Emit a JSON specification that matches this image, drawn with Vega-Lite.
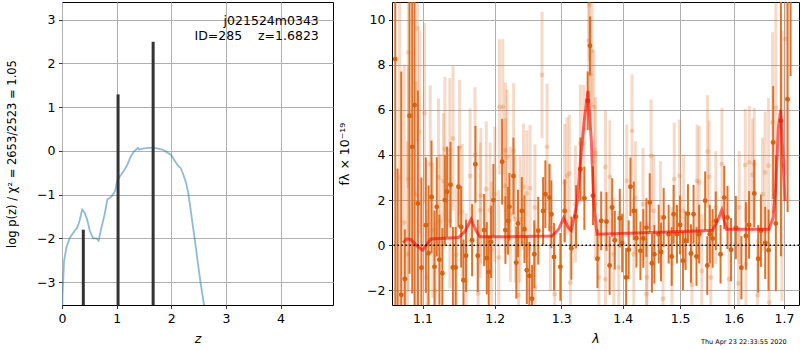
{
  "$schema": "https://vega.github.io/schema/vega-lite/v6.json",
  "background": "white",
  "padding": {"left": 6, "top": 1, "right": 0, "bottom": 0},
  "spacing": 59,
  "bounds": "flush",
  "config": {
    "font": "DejaVu Sans",
    "view": {"stroke": "black", "strokeWidth": 1},
    "axis": {
      "grid": true, "gridColor": "#b0b0b0", "gridWidth": 1,
      "domain": false, "tickColor": "black", "tickSize": 3.5, "tickWidth": 0.8,
      "labelFontSize": 12.5, "labelColor": "black", "labelFont": "DejaVu Sans", "labelPadding": 3.5,
      "labelFlush": false, "labelOverlap": false,
      "titleFontSize": 12.5, "titleFontWeight": "normal", "titleColor": "black", "titleFont": "DejaVu Sans"
    }
  },
  "datasets": {
    "pz": [
      {"z":0.0,"lp":-3.9},{"z":0.01,"lp":-3.3},{"z":0.037,"lp":-2.52},{"z":0.08,"lp":-2.21},{"z":0.14,"lp":-1.99},{"z":0.23,"lp":-1.83},{"z":0.275,"lp":-1.76},{"z":0.32,"lp":-1.6},{"z":0.37,"lp":-1.34},{"z":0.415,"lp":-1.41},{"z":0.46,"lp":-1.57},{"z":0.51,"lp":-1.83},{"z":0.57,"lp":-2.0},{"z":0.63,"lp":-2.0},{"z":0.67,"lp":-2.05},{"z":0.72,"lp":-1.76},{"z":0.78,"lp":-1.45},{"z":0.83,"lp":-1.11},{"z":0.89,"lp":-1.06},{"z":0.93,"lp":-1.0},{"z":0.97,"lp":-0.92},{"z":1.01,"lp":-0.69},{"z":1.06,"lp":-0.58},{"z":1.13,"lp":-0.46},{"z":1.2,"lp":-0.31},{"z":1.26,"lp":-0.12},{"z":1.32,"lp":-0.01},{"z":1.39,"lp":0.07},{"z":1.41,"lp":0.03},{"z":1.48,"lp":0.05},{"z":1.58,"lp":0.07},{"z":1.67,"lp":0.07},{"z":1.76,"lp":0.05},{"z":1.86,"lp":0.02},{"z":1.94,"lp":-0.05},{"z":2.0,"lp":-0.1},{"z":2.06,"lp":-0.22},{"z":2.12,"lp":-0.33},{"z":2.17,"lp":-0.39},{"z":2.22,"lp":-0.54},{"z":2.27,"lp":-0.73},{"z":2.31,"lp":-0.96},{"z":2.35,"lp":-1.3},{"z":2.4,"lp":-1.76},{"z":2.45,"lp":-2.21},{"z":2.49,"lp":-2.59},{"z":2.54,"lp":-3.05},{"z":2.6,"lp":-3.52},{"z":2.65,"lp":-4.0}
    ],
    "bars": [
      {"z":0.39,"lp":-1.8,"base":-3.6},{"z":1.026,"lp":1.29,"base":-3.6},{"z":1.668,"lp":2.49,"base":-3.6}
    ],
    "lab": [
      {"z":4.7,"lp":2.96,"t":"j021524m0343"},{"z":4.7,"lp":2.62,"t":"ID=285\u00a0\u00a0\u00a0\u00a0z=1.6823"}
    ],
    "model": [
      {"w":1.0744,"f":0.12},{"w":1.0796,"f":0.28},{"w":1.0848,"f":0.25},{"w":1.0926,"f":-0.03},{"w":1.1,"f":-0.22},{"w":1.1058,"f":0.04},{"w":1.1112,"f":0.28},{"w":1.1487,"f":0.34},{"w":1.158,"f":0.63},{"w":1.1663,"f":1.15},{"w":1.1734,"f":0.63},{"w":1.179,"f":0.37},{"w":1.2005,"f":0.37},{"w":1.2857,"f":0.41},{"w":1.296,"f":0.71},{"w":1.3038,"f":1.2},{"w":1.3106,"f":0.8},{"w":1.3158,"f":0.65},{"w":1.3249,"f":1.82},{"w":1.3318,"f":4.18},{"w":1.3372,"f":5.66},{"w":1.3425,"f":6.84},{"w":1.3479,"f":4.63},{"w":1.3518,"f":1.96},{"w":1.3572,"f":0.49},{"w":1.5343,"f":0.63},{"w":1.5598,"f":0.66},{"w":1.5692,"f":1.08},{"w":1.5773,"f":1.55},{"w":1.5862,"f":0.71},{"w":1.6696,"f":0.71},{"w":1.6777,"f":1.22},{"w":1.6831,"f":2.55},{"w":1.6886,"f":5.22},{"w":1.6932,"f":6.0},{"w":1.698,"f":3.89},{"w":1.702,"f":1.96}
    ],
    "dark": [
      {"w":1.0645,"f":8.25,"lo":-3.75,"hi":20.25},{"w":1.0674,"f":-3.0,"lo":-9.4,"hi":3.4},{"w":1.0722,"f":-2.2,"lo":-12.1,"hi":7.7},{"w":1.0768,"f":-1.5,"lo":-3.7,"hi":0.7},{"w":1.0829,"f":5.74,"lo":-1.26,"hi":12.74},{"w":1.0864,"f":4.36,"lo":-2.14,"hi":10.86},{"w":1.0895,"f":6.21,"lo":-2.79,"hi":15.21},{"w":1.0939,"f":1.85,"lo":-3.15,"hi":6.85},{"w":1.0985,"f":-1.0,"lo":-5.0,"hi":3.0},{"w":1.1044,"f":0.89,"lo":-2.11,"hi":3.89},
      {"w":1.108,"f":-0.35,"lo":-3.35,"hi":2.65},{"w":1.112,"f":2.14,"lo":-0.36,"hi":4.64},{"w":1.116,"f":-0.96,"lo":-3.46,"hi":1.54},{"w":1.119,"f":1.7,"lo":-0.5,"hi":3.9},{"w":1.1226,"f":-0.64,"lo":-2.64,"hi":1.36},{"w":1.1266,"f":-1.24,"lo":-3.24,"hi":0.76},{"w":1.13,"f":2.0,"lo":0.0,"hi":4.0},{"w":1.133,"f":2.37,"lo":0.37,"hi":4.37},{"w":1.1377,"f":2.68,"lo":0.78,"hi":4.58},{"w":1.141,"f":-0.99,"lo":-2.79,"hi":0.81},
      {"w":1.1448,"f":-0.99,"lo":-2.79,"hi":0.81},{"w":1.1487,"f":2.59,"lo":0.79,"hi":4.39},{"w":1.1524,"f":0.81,"lo":-0.99,"hi":2.61},{"w":1.1556,"f":-1.55,"lo":-3.35,"hi":0.25},{"w":1.1592,"f":-0.47,"lo":-2.07,"hi":1.13},{"w":1.1677,"f":0.22,"lo":-1.38,"hi":1.82},{"w":1.1724,"f":3.59,"lo":1.89,"hi":5.29},{"w":1.1757,"f":-0.47,"lo":-2.07,"hi":1.13},{"w":1.1847,"f":0.67,"lo":-0.93,"hi":2.27},{"w":1.1885,"f":-0.58,"lo":-2.18,"hi":1.02},
      {"w":1.1913,"f":-1.18,"lo":-2.78,"hi":0.42},{"w":1.1947,"f":0.15,"lo":-1.45,"hi":1.75},{"w":1.198,"f":2.0,"lo":0.4,"hi":3.6},{"w":1.2107,"f":3.7,"lo":1.8,"hi":5.6},{"w":1.2155,"f":0.67,"lo":-0.83,"hi":2.17},{"w":1.2194,"f":1.08,"lo":-0.42,"hi":2.58},{"w":1.2213,"f":1.7,"lo":0.2,"hi":3.2},{"w":1.2273,"f":3.07,"lo":1.37,"hi":4.77},{"w":1.2315,"f":-0.77,"lo":-2.37,"hi":0.83},{"w":1.234,"f":0.96,"lo":-0.54,"hi":2.46},
      {"w":1.2397,"f":1.52,"lo":0.02,"hi":3.02},{"w":1.2437,"f":0.71,"lo":-0.79,"hi":2.21},{"w":1.2472,"f":-1.11,"lo":-2.61,"hi":0.39},{"w":1.2511,"f":-1.36,"lo":-2.86,"hi":0.14},{"w":1.2551,"f":-2.37,"lo":-3.87,"hi":-0.87},{"w":1.2585,"f":-0.4,"lo":-1.9,"hi":1.1},{"w":1.2645,"f":0.64,"lo":-0.86,"hi":2.14},{"w":1.2719,"f":1.52,"lo":0.02,"hi":3.02},{"w":1.2754,"f":2.26,"lo":0.76,"hi":3.76},{"w":1.2816,"f":2.11,"lo":0.61,"hi":3.61},
      {"w":1.2847,"f":1.37,"lo":-0.13,"hi":2.87},{"w":1.2888,"f":-0.52,"lo":-2.02,"hi":0.98},{"w":1.2986,"f":-0.96,"lo":-2.46,"hi":0.54},{"w":1.3054,"f":1.52,"lo":0.12,"hi":2.92},{"w":1.3159,"f":-0.13,"lo":-1.53,"hi":1.27},{"w":1.3234,"f":1.26,"lo":-0.14,"hi":2.66},{"w":1.3303,"f":3.37,"lo":1.97,"hi":4.77},{"w":1.3367,"f":2.08,"lo":0.68,"hi":3.48},{"w":1.342,"f":6.4,"lo":5.1,"hi":7.7},{"w":1.3458,"f":8.84,"lo":7.54,"hi":10.14},
      {"w":1.3507,"f":2.19,"lo":0.89,"hi":3.49},{"w":1.358,"f":-0.6,"lo":-1.9,"hi":0.7},{"w":1.3641,"f":1.08,"lo":-0.22,"hi":2.38},{"w":1.3728,"f":1.05,"lo":-0.25,"hi":2.35},{"w":1.378,"f":-0.9,"lo":-2.2,"hi":0.4},{"w":1.3822,"f":1.67,"lo":0.37,"hi":2.97},{"w":1.3866,"f":0.22,"lo":-1.08,"hi":1.52},{"w":1.395,"f":1.2,"lo":-0.1,"hi":2.5},{"w":1.399,"f":0.1,"lo":-1.2,"hi":1.4},{"w":1.4057,"f":-1.43,"lo":-2.73,"hi":-0.13},
      {"w":1.41,"f":-0.2,"lo":-1.5,"hi":1.1},{"w":1.413,"f":2.59,"lo":1.29,"hi":3.89},{"w":1.4187,"f":1.52,"lo":0.22,"hi":2.82},{"w":1.4232,"f":0.31,"lo":-0.99,"hi":1.61},{"w":1.4301,"f":-0.25,"lo":-1.55,"hi":1.05},{"w":1.435,"f":0.3,"lo":-1.0,"hi":1.6},{"w":1.4404,"f":0.78,"lo":-0.52,"hi":2.08},{"w":1.4462,"f":1.89,"lo":0.59,"hi":3.19},{"w":1.45,"f":-0.8,"lo":-2.1,"hi":0.5},{"w":1.4543,"f":-0.4,"lo":-1.7,"hi":0.9},
      {"w":1.4619,"f":0.49,"lo":-0.81,"hi":1.79},{"w":1.466,"f":-0.3,"lo":-1.6,"hi":1.0},{"w":1.4707,"f":1.23,"lo":-0.07,"hi":2.53},{"w":1.4795,"f":0.49,"lo":-0.81,"hi":1.79},{"w":1.485,"f":-0.5,"lo":-1.8,"hi":0.8},{"w":1.4884,"f":1.37,"lo":0.07,"hi":2.67},{"w":1.4944,"f":0.49,"lo":-0.81,"hi":1.79},{"w":1.5,"f":0.9,"lo":-0.4,"hi":2.2},{"w":1.5052,"f":-0.69,"lo":-1.99,"hi":0.61},{"w":1.51,"f":0.2,"lo":-1.1,"hi":1.5},
      {"w":1.5143,"f":1.4,"lo":0.1,"hi":2.7},{"w":1.5198,"f":-0.37,"lo":-1.67,"hi":0.93},{"w":1.5246,"f":1.37,"lo":0.07,"hi":2.67},{"w":1.53,"f":-0.5,"lo":-1.8,"hi":0.8},{"w":1.5348,"f":0.49,"lo":-0.81,"hi":1.79},{"w":1.546,"f":1.97,"lo":0.67,"hi":3.27},{"w":1.55,"f":-0.9,"lo":-2.2,"hi":0.4},{"w":1.5547,"f":0.49,"lo":-0.81,"hi":1.79},{"w":1.56,"f":0.3,"lo":-1.0,"hi":1.6},{"w":1.566,"f":1.08,"lo":-0.22,"hi":2.38},
      {"w":1.575,"f":-0.4,"lo":-1.7,"hi":0.9},{"w":1.5819,"f":2.11,"lo":0.71,"hi":3.51},{"w":1.5882,"f":1.23,"lo":-0.17,"hi":2.63},{"w":1.595,"f":-0.2,"lo":-1.6,"hi":1.2},{"w":1.6043,"f":0.78,"lo":-0.62,"hi":2.18},{"w":1.615,"f":-1.0,"lo":-2.4,"hi":0.4},{"w":1.6238,"f":0.41,"lo":-1.09,"hi":1.91},{"w":1.63,"f":0.9,"lo":-0.6,"hi":2.4},{"w":1.6402,"f":2.29,"lo":0.79,"hi":3.79},{"w":1.648,"f":-0.6,"lo":-2.1,"hi":0.9},
      {"w":1.6534,"f":0.64,"lo":-0.96,"hi":2.24},{"w":1.662,"f":0.1,"lo":-1.5,"hi":1.7},{"w":1.6687,"f":-0.22,"lo":-2.02,"hi":1.58},{"w":1.678,"f":4.55,"lo":2.05,"hi":7.05},{"w":1.6834,"f":0.96,"lo":-2.04,"hi":3.96},{"w":1.6937,"f":5.51,"lo":-0.49,"hi":11.51},{"w":1.7074,"f":6.47,"lo":1.47,"hi":11.47},{"w":1.7135,"f":12.0,"lo":7.5,"hi":16.5}
    ],
    "light": [
      {"w":1.07,"f":3.0,"lo":-5.0,"hi":11.0},{"w":1.076,"f":1.0,"lo":-6.0,"hi":8.0},{"w":1.0815,"f":8.54,"lo":2.54,"hi":14.54},{"w":1.0934,"f":9.62,"lo":4.62,"hi":14.62},{"w":1.1026,"f":5.85,"lo":1.85,"hi":9.85},{"w":1.096,"f":5.03,"lo":0.53,"hi":9.53},{"w":1.0916,"f":2.26,"lo":-2.74,"hi":7.26},{"w":1.0815,"f":2.93,"lo":-2.07,"hi":7.93},{"w":1.0802,"f":-0.4,"lo":-5.4,"hi":4.6},{"w":1.1102,"f":3.59,"lo":0.09,"hi":7.09},
      {"w":1.1213,"f":3.0,"lo":-0.5,"hi":6.5},{"w":1.13,"f":4.26,"lo":1.06,"hi":7.46},{"w":1.1368,"f":4.21,"lo":1.01,"hi":7.41},{"w":1.1412,"f":4.73,"lo":1.53,"hi":7.93},{"w":1.1502,"f":4.33,"lo":1.33,"hi":7.33},{"w":1.128,"f":2.85,"lo":-0.15,"hi":5.85},{"w":1.1235,"f":1.05,"lo":-1.95,"hi":4.05},{"w":1.1137,"f":0.67,"lo":-2.33,"hi":3.67},{"w":1.1057,"f":-1.43,"lo":-4.43,"hi":1.57},{"w":1.117,"f":-2.03,"lo":-5.03,"hi":0.97},
      {"w":1.1649,"f":3.07,"lo":0.07,"hi":6.07},{"w":1.1718,"f":4.0,"lo":1.0,"hi":7.0},{"w":1.1799,"f":2.19,"lo":-0.81,"hi":5.19},{"w":1.1878,"f":2.48,"lo":-0.52,"hi":5.48},{"w":1.1932,"f":1.55,"lo":-1.45,"hi":4.55},{"w":1.179,"f":1.55,"lo":-1.45,"hi":4.55},{"w":1.1538,"f":1.49,"lo":-1.51,"hi":4.49},{"w":1.1368,"f":1.08,"lo":-1.92,"hi":4.08},{"w":1.1457,"f":-0.43,"lo":-3.43,"hi":2.57},{"w":1.1762,"f":-2.14,"lo":-5.14,"hi":0.86},
      {"w":1.1592,"f":-1.58,"lo":-4.58,"hi":1.42},{"w":1.1956,"f":-0.18,"lo":-3.18,"hi":2.82},{"w":1.2068,"f":6.13,"lo":3.13,"hi":9.13},{"w":1.2116,"f":6.13,"lo":3.13,"hi":9.13},{"w":1.2155,"f":4.21,"lo":1.21,"hi":7.21},{"w":1.2276,"f":4.18,"lo":1.18,"hi":7.18},{"w":1.218,"f":3.89,"lo":0.89,"hi":6.89},{"w":1.2,"f":2.26,"lo":-0.74,"hi":5.26},{"w":1.2155,"f":2.63,"lo":-0.37,"hi":5.63},{"w":1.2228,"f":1.37,"lo":-1.63,"hi":4.37},
      {"w":1.2703,"f":7.55,"lo":4.75,"hi":10.35},{"w":1.278,"f":4.36,"lo":1.56,"hi":7.16},{"w":1.2422,"f":2.59,"lo":-0.21,"hi":5.39},{"w":1.2472,"f":2.29,"lo":-0.51,"hi":5.09},{"w":1.2521,"f":2.53,"lo":-0.27,"hi":5.33},{"w":1.2372,"f":1.15,"lo":-1.65,"hi":3.95},{"w":1.23,"f":1.15,"lo":-1.65,"hi":3.95},{"w":1.2595,"f":1.67,"lo":-1.13,"hi":4.47},{"w":1.3091,"f":3.07,"lo":0.47,"hi":5.67},{"w":1.3128,"f":3.18,"lo":0.58,"hi":5.78},
      {"w":1.3054,"f":2.78,"lo":0.18,"hi":5.38},{"w":1.3303,"f":4.51,"lo":1.91,"hi":7.11},{"w":1.3356,"f":4.51,"lo":1.91,"hi":7.11},{"w":1.3437,"f":9.06,"lo":6.56,"hi":11.56},{"w":1.3464,"f":7.58,"lo":5.08,"hi":10.08},{"w":1.3447,"f":10.66,"lo":8.16,"hi":13.16},{"w":1.349,"f":8.62,"lo":6.12,"hi":11.12},{"w":1.3545,"f":1.82,"lo":-0.68,"hi":4.32},{"w":1.2058,"f":-0.55,"lo":-3.55,"hi":2.45},{"w":1.2348,"f":-2.22,"lo":-5.02,"hi":0.58},
      {"w":1.2595,"f":-1.88,"lo":-4.68,"hi":0.92},{"w":1.2898,"f":-2.17,"lo":-4.97,"hi":0.63},{"w":1.3144,"f":-1.66,"lo":-4.26,"hi":0.94},{"w":1.2831,"f":0.78,"lo":-2.02,"hi":3.58},{"w":1.3223,"f":1.82,"lo":-0.78,"hi":4.42},{"w":1.3548,"f":4.07,"lo":1.57,"hi":6.57},{"w":1.3521,"f":6.13,"lo":3.63,"hi":8.63},{"w":1.3711,"f":3.47,"lo":0.97,"hi":5.97},{"w":1.3782,"f":3.03,"lo":0.53,"hi":5.53},{"w":1.4157,"f":5.07,"lo":2.57,"hi":7.57},
      {"w":1.4068,"f":2.85,"lo":0.35,"hi":5.35},{"w":1.4486,"f":3.96,"lo":1.46,"hi":6.46},{"w":1.4215,"f":2.11,"lo":-0.39,"hi":4.61},{"w":1.4346,"f":1.82,"lo":-0.68,"hi":4.32},{"w":1.4531,"f":1.52,"lo":-0.98,"hi":4.02},{"w":1.4649,"f":1.23,"lo":-1.27,"hi":3.73},{"w":1.4895,"f":2.93,"lo":0.43,"hi":5.43},{"w":1.4992,"f":3.07,"lo":0.57,"hi":5.57},{"w":1.5311,"f":2.85,"lo":0.35,"hi":5.35},{"w":1.5064,"f":1.52,"lo":-0.98,"hi":4.02},
      {"w":1.3603,"f":-1.43,"lo":-3.93,"hi":1.07},{"w":1.3711,"f":-1.51,"lo":-4.01,"hi":0.99},{"w":1.3932,"f":-0.99,"lo":-3.49,"hi":1.51},{"w":1.4416,"f":-1.43,"lo":-3.93,"hi":1.07},{"w":1.4404,"f":-2.17,"lo":-4.67,"hi":0.33},{"w":1.4696,"f":-2.37,"lo":-4.87,"hi":0.13},{"w":1.4854,"f":-0.81,"lo":-3.31,"hi":1.69},{"w":1.5216,"f":-1.76,"lo":-4.26,"hi":0.74},{"w":1.3849,"f":-0.4,"lo":-2.9,"hi":2.1},{"w":1.4187,"f":-0.4,"lo":-2.9,"hi":2.1},
      {"w":1.5504,"f":4.15,"lo":1.65,"hi":6.65},{"w":1.5535,"f":3.03,"lo":0.53,"hi":5.53},{"w":1.5348,"f":2.78,"lo":0.28,"hi":5.28},{"w":1.5775,"f":3.59,"lo":1.09,"hi":6.09},{"w":1.6225,"f":3.55,"lo":1.05,"hi":6.05},{"w":1.6304,"f":3.67,"lo":1.17,"hi":6.17},{"w":1.6402,"f":3.59,"lo":1.09,"hi":6.09},{"w":1.6369,"f":3.12,"lo":0.62,"hi":5.62},{"w":1.6619,"f":3.22,"lo":0.52,"hi":5.92},{"w":1.6687,"f":3.52,"lo":0.52,"hi":6.52},
      {"w":1.6767,"f":5.44,"lo":1.44,"hi":9.44},{"w":1.6834,"f":6.1,"lo":1.1,"hi":11.1},{"w":1.6957,"f":3.52,"lo":-2.48,"hi":9.52},{"w":1.7026,"f":9.14,"lo":3.14,"hi":15.14},{"w":1.5566,"f":-1.43,"lo":-3.93,"hi":1.07},{"w":1.5913,"f":-1.51,"lo":-4.01,"hi":0.99},{"w":1.6094,"f":-1.7,"lo":-4.2,"hi":0.8},{"w":1.6238,"f":-0.84,"lo":-3.34,"hi":1.66},{"w":1.6468,"f":-2.22,"lo":-4.72,"hi":0.28},{"w":1.5398,"f":-1.14,"lo":-3.64,"hi":1.36},
      {"w":1.566,"f":1.67,"lo":-0.83,"hi":4.17},{"w":1.6107,"f":1.67,"lo":-0.83,"hi":4.17},{"w":1.6566,"f":2.26,"lo":-0.24,"hi":4.76},{"w":1.67,"f":-2.54,"lo":-5.24,"hi":0.16}
    ]
  },
  "hconcat": [
    {
      "width": 271,
      "height": 303,
      "layer": [
        {
          "data": {"name": "pz"},
          "mark": {"type": "line", "clip": true, "color": "#1f77b4", "opacity": 0.5, "strokeWidth": 1.8},
          "encoding": {
            "x": {"field": "z", "type": "quantitative", "title": "z", "scale": {"domain": [0, 4.96], "nice": false, "zero": false}, "axis": {"values": [0, 1, 2, 3, 4], "titleFontStyle": "italic", "titlePadding": 8}},
            "y": {"field": "lp", "type": "quantitative", "title": "log p(z) / χ² = 2653/2523 = 1.05", "scale": {"domain": [-3.52, 3.4], "nice": false, "zero": false}, "axis": {"values": [-3, -2, -1, 0, 1, 2, 3], "titleFontSize": 11.5, "titlePadding": 19}}
          }
        },
        {
          "data": {"name": "bars"},
          "mark": {"type": "rule", "clip": true, "color": "#333333", "strokeWidth": 3},
          "encoding": {
            "x": {"field": "z", "type": "quantitative", "title": "z"},
            "y": {"field": "lp", "type": "quantitative", "title": "log p(z) / χ² = 2653/2523 = 1.05"},
            "y2": {"field": "base"}
          }
        },
        {
          "data": {"name": "lab"},
          "mark": {"type": "text", "align": "right", "baseline": "middle", "fontSize": 12.5, "color": "black"},
          "encoding": {
            "x": {"field": "z", "type": "quantitative", "title": "z"},
            "y": {"field": "lp", "type": "quantitative", "title": "log p(z) / χ² = 2653/2523 = 1.05"},
            "text": {"field": "t"}
          }
        }
      ]
    },
    {
      "width": 407,
      "height": 303,
      "title": {"text": "Thu Apr 23 22:33:55 2020", "orient": "bottom", "anchor": "end", "fontSize": 6.5, "fontWeight": "normal", "color": "black", "offset": -6, "dx": -13},
      "layer": [
        {
          "data": {"name": "light"},
          "mark": {"type": "rule", "clip": true, "color": "#dc6b1f", "opacity": 0.25, "strokeWidth": 3},
          "encoding": {
            "x": {"field": "w", "type": "quantitative", "title": "λ", "scale": {"type": "log", "domain": [1.0603, 1.731], "nice": false}, "axis": {"values": [1.1, 1.2, 1.3, 1.4, 1.5, 1.6, 1.7], "format": ".1f", "titleFontStyle": "italic", "titlePadding": 8}},
            "y": {"field": "lo", "type": "quantitative", "title": "fλ × 10⁻¹⁹", "scale": {"domain": [-2.65, 10.78], "nice": false, "zero": false}, "axis": {"values": [-2, 0, 2, 4, 6, 8, 10], "titlePadding": 15}},
            "y2": {"field": "hi"}
          }
        },
        {
          "data": {"name": "light"},
          "mark": {"type": "circle", "clip": true, "color": "#dc6b1f", "opacity": 0.25, "size": 24},
          "encoding": {
            "x": {"field": "w", "type": "quantitative", "title": "λ"},
            "y": {"field": "f", "type": "quantitative", "title": "fλ × 10⁻¹⁹"}
          }
        },
        {
          "data": {"name": "dark"},
          "mark": {"type": "rule", "clip": true, "color": "#dc6b1f", "opacity": 0.95, "strokeWidth": 2},
          "encoding": {
            "x": {"field": "w", "type": "quantitative", "title": "λ"},
            "y": {"field": "lo", "type": "quantitative", "title": "fλ × 10⁻¹⁹"},
            "y2": {"field": "hi"}
          }
        },
        {
          "data": {"name": "dark"},
          "mark": {"type": "circle", "clip": true, "color": "#d9610f", "opacity": 1, "size": 24},
          "encoding": {
            "x": {"field": "w", "type": "quantitative", "title": "λ"},
            "y": {"field": "f", "type": "quantitative", "title": "fλ × 10⁻¹⁹"}
          }
        },
        {
          "data": {"name": "model"},
          "mark": {"type": "line", "clip": true, "color": "#ff0000", "opacity": 0.6, "strokeWidth": 3},
          "encoding": {
            "x": {"field": "w", "type": "quantitative", "title": "λ"},
            "y": {"field": "f", "type": "quantitative", "title": "fλ × 10⁻¹⁹"}
          }
        },
        {
          "data": {"values": [{}]},
          "mark": {"type": "rule", "color": "black", "strokeWidth": 1.5, "strokeDash": [1.5, 2.5]},
          "encoding": {
            "y": {"datum": 0, "type": "quantitative"}
          }
        }
      ]
    }
  ]
}
